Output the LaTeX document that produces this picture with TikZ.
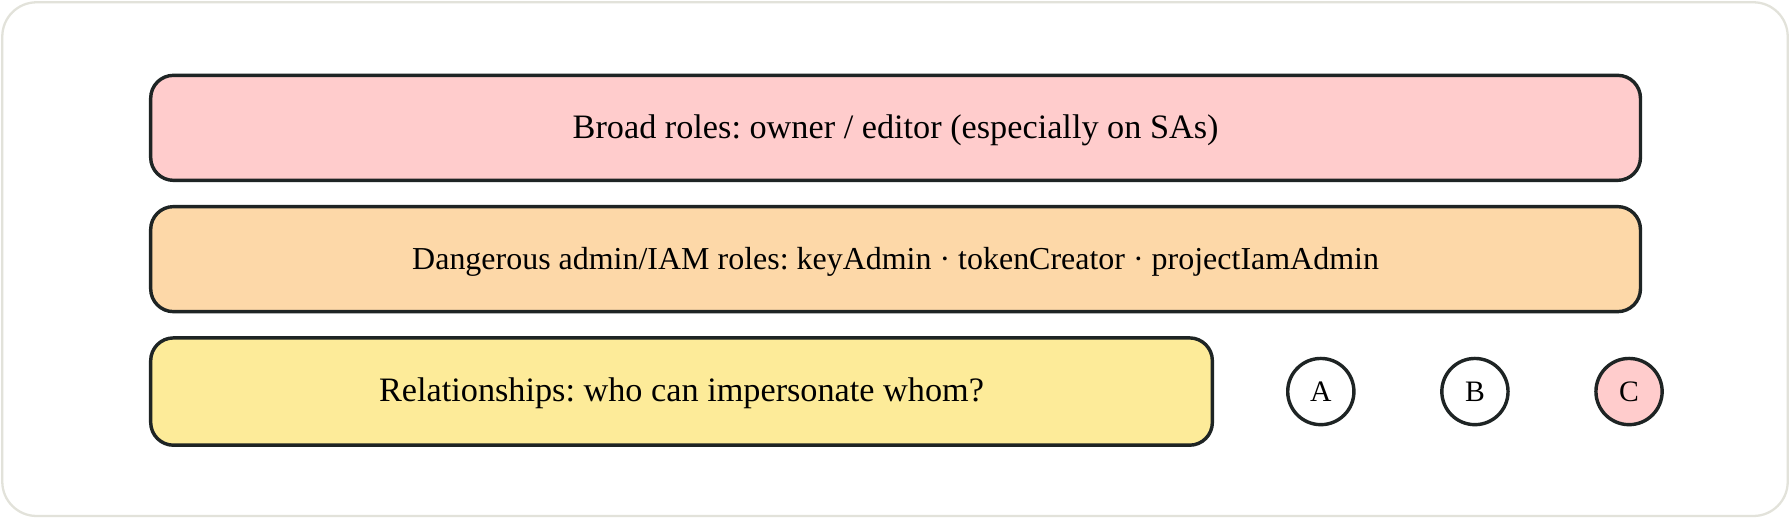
\documentclass[tikz,border=0pt]{standalone}
\usepackage{fontspec}
\setmainfont{Liberation Serif}
\usetikzlibrary{positioning}
\definecolor{inkline}{HTML}{1E2424}
\definecolor{framegray}{HTML}{E2E2DA}
\definecolor{pinkfill}{HTML}{FFCCCC}
\definecolor{orangefill}{HTML}{FDD8A8}
\definecolor{yellowfill}{HTML}{FDEB99}
\tikzstyle{band} = [rectangle, rounded corners=10pt, minimum width=652.5pt, minimum height=46pt, text centered, text height=9pt, text depth=0pt, draw=inkline, line width=1.5pt, font=\fontsize{15}{18}\selectfont]
\tikzstyle{actor} = [circle, minimum size=29pt, inner sep=0pt, draw=inkline, line width=1.5pt, fill=white, font=\fontsize{13}{15}\selectfont]
\frenchspacing

\begin{document}
\begin{tikzpicture}[node distance=10pt]

\useasboundingbox (0,0) rectangle (784pt,227pt);
\draw [framegray, line width=1pt, fill=white, rounded corners=15pt] (1pt,1pt) rectangle (783pt,226pt);

\node (broad) [band, fill=pinkfill] at (392.25pt,171pt) {Broad roles: owner / editor (especially on SAs)};
\node (danger) [band, fill=orangefill, below=of broad, font=\fontsize{14}{17}\selectfont] {Dangerous admin/IAM roles: keyAdmin · tokenCreator · projectIamAdmin};
\node (relation) [band, fill=yellowfill, minimum width=465pt, minimum height=47pt, below right=10pt and 0pt of danger.south west] {Relationships: who can impersonate whom?};
%
\node (sa) [actor, right=31.5pt of relation] {A};
\node (sb) [actor, right=37pt of sa] {B};
\node (sc) [actor, right=37pt of sb, fill=pinkfill] {C};

\end{tikzpicture}
\end{document}
